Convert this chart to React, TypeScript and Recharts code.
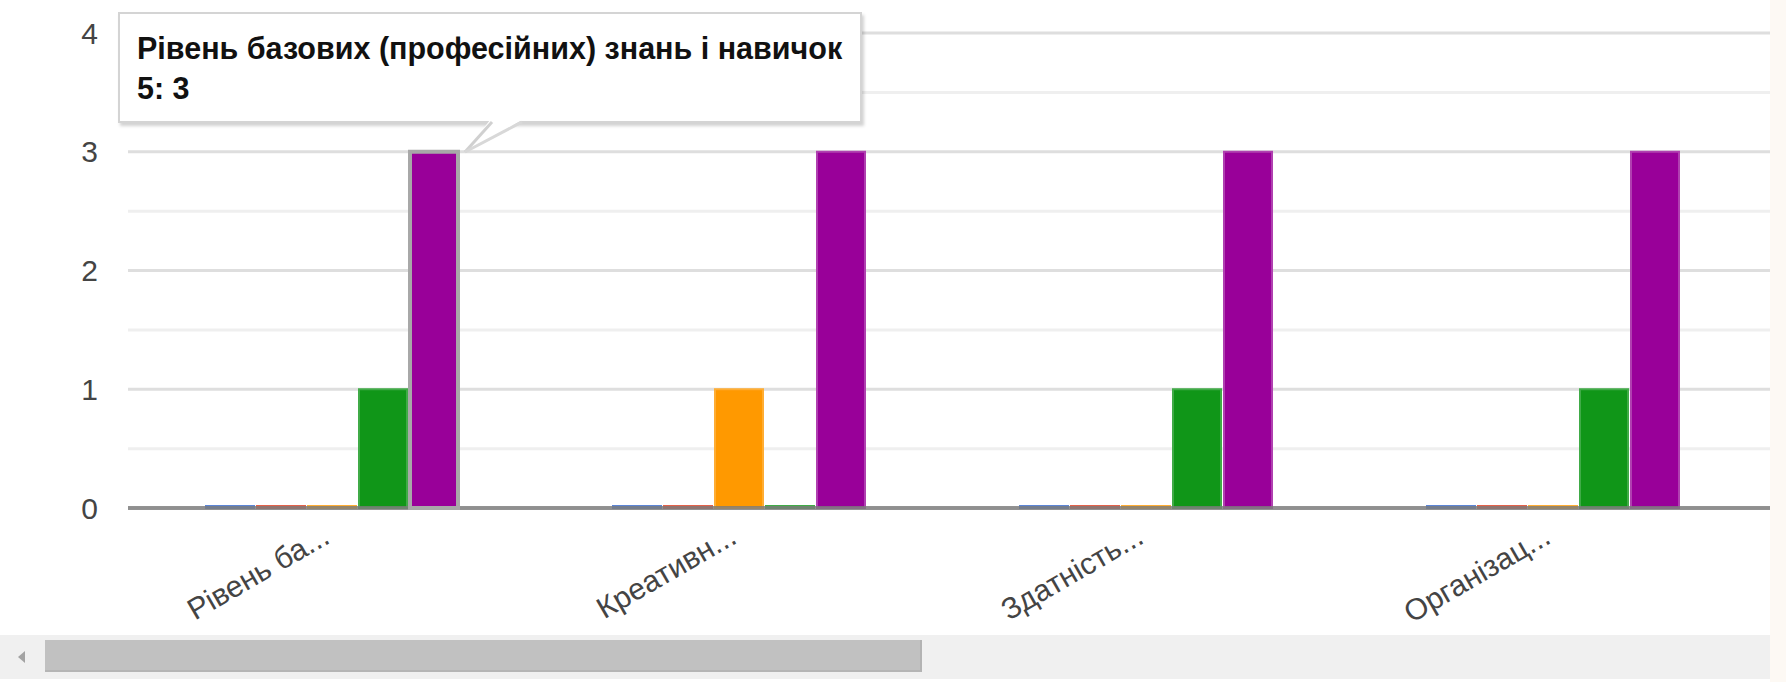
import React from 'react';
import { BarChart, Bar, XAxis, YAxis, CartesianGrid, Tooltip } from 'recharts';

const categories = [
  'Рівень базових (професійних) знань і навичок',
  'Креативність',
  'Здатність до самоосвіти',
  'Організаційні здібності',
];
const tickLabels = ['Рівень ба...', 'Креативн...', 'Здатність...', 'Організац...'];
const seriesNames = ['1', '2', '3', '4', '5'];
const series1 = [0, 0, 0, 0];
const series2 = [0, 0, 0, 0];
const series3 = [0, 1, 0, 0];
const series4 = [1, 0, 1, 1];
const series5 = [3, 3, 3, 3];
const seriesColors = ['#3366cc', '#dc3912', '#ff9900', '#109618', '#990099'];
const seriesEdges = ['#5c85d6', '#e3614a', '#ffad33', '#40ab47', '#b040b0'];
const majorTicks = [0, 1, 2, 3, 4];
const minorTicks = [0.5, 1.5, 2.5, 3.5];
const yDomain = [0, 4];
const tooltipSeries = '5';

const allSeries = [series1, series2, series3, series4, series5];
const data = categories.map((name, i) => {
  const row: Record<string, string | number> = { name, short: tickLabels[i] };
  seriesNames.forEach((s, k) => {
    row['s' + s] = allSeries[k][i];
  });
  return row;
});

const FONT = '"Liberation Sans", Arial, sans-serif';

const minorGen = (args: any) => {
  const yAxis = args && args.yAxis;
  const offset = args && args.offset;
  const sc = yAxis && yAxis.scale;
  return minorTicks.map((v) => {
    if (typeof sc === 'function') return sc(v);
    if (sc && typeof sc.map === 'function') return sc.map(v);
    const t = (v - yDomain[0]) / (yDomain[1] - yDomain[0]);
    return offset.top + offset.height * (1 - t);
  });
};

const XTick = (props: any) => {
  const { x, y, payload } = props;
  const ty = y + 34;
  return (
    <text
      x={x}
      y={ty}
      transform={`rotate(-30, ${x}, ${ty})`}
      textAnchor="end"
      fontSize={30}
      fontFamily={FONT}
      fill="#444"
    >
      {payload.value}
    </text>
  );
};

const TipContent = (props: any) => {
  const { payload, active } = props;
  if (!active || !payload || !payload.length) return null;
  const entry = payload.find((p: any) => p.name === tooltipSeries) || payload[payload.length - 1];
  const title = entry.payload.name;
  return (
    <div
      style={{
        position: 'relative',
        background: '#fff',
        border: '2px solid #d4d4d4',
        boxShadow: '2px 3px 3px rgba(0,0,0,0.18)',
        padding: '14px 18px 13px 17px',
        fontFamily: FONT,
        fontSize: 30.5,
        fontWeight: 'bold',
        color: '#111',
        whiteSpace: 'nowrap',
        lineHeight: '40px',
        width: 705,
        boxSizing: 'content-box',
      }}
    >
      <div>{title}</div>
      <div>
        {entry.name}: {entry.value}
      </div>
      <svg
        width={120}
        height={60}
        style={{ position: 'absolute', left: 340, top: 106, overflow: 'visible' }}
      >
        <polygon points="30,0 62,0 5,32" fill="#fff" />
        <line x1={32} y1={2} x2={5} y2={32} stroke="#d0d0d0" strokeWidth={3} />
        <line x1={62} y1={2} x2={5} y2={32} stroke="#d8d8d8" strokeWidth={3} />
      </svg>
    </div>
  );
};

export default function App() {
  return (
    <div style={{ position: 'absolute', left: 0, top: 0, width: 1786, height: 682, background: '#fff', overflow: 'hidden' }}>
      <BarChart
        width={1770}
        height={635}
        data={data}
        margin={{ top: 33, right: 0, left: 0, bottom: 7 }}
        barSize={48}
        barGap={3}
      >
        <CartesianGrid vertical={false} stroke="#efefef" strokeWidth={3} horizontalCoordinatesGenerator={minorGen} />
        <CartesianGrid vertical={false} stroke="#dedede" strokeWidth={3} />
        <YAxis
          width={128}
          domain={yDomain}
          ticks={majorTicks}
          axisLine={false}
          tickLine={false}
          tickSize={0}
          tickMargin={30}
          tick={{ fontSize: 30, fill: '#444', fontFamily: FONT }}
        />
        {seriesNames.map((s, k) => (
          <Bar
            key={s}
            dataKey={'s' + s}
            name={s}
            fill={seriesColors[k]}
            stroke={seriesEdges[k]}
            strokeWidth={2}
            minPointSize={2}
            isAnimationActive={false}
            activeBar={s === tooltipSeries ? { stroke: '#a8a8a8', strokeWidth: 4 } : false}
          />
        ))}
        <XAxis
          dataKey="short"
          height={120}
          padding={{ left: 0, right: 14 }}
          axisLine={{ stroke: '#7a7a7a', strokeWidth: 4, strokeOpacity: 0.8 }}
          tickLine={false}
          tickSize={0}
          tickMargin={0}
          interval={0}
          tick={<XTick />}
        />
        <Tooltip
          defaultIndex={0}
          active={true}
          cursor={false}
          position={{ x: 118, y: 12 }}
          content={<TipContent />}
          isAnimationActive={false}
          wrapperStyle={{ zIndex: 10, outline: 'none' }}
        />
      </BarChart>
      <div style={{ position: 'absolute', left: 0, top: 635, width: 1770, height: 44, background: '#f0f0f0' }} />
      <div
        style={{
          position: 'absolute',
          left: 45,
          top: 640,
          width: 875,
          height: 30,
          background: '#c1c1c1',
          borderRight: '2px solid #b3b3b3',
          borderBottom: '2px solid #b5b5b5',
        }}
      />
      <div
        style={{
          position: 'absolute',
          left: 18,
          top: 651,
          width: 0,
          height: 0,
          borderTop: '6px solid transparent',
          borderBottom: '6px solid transparent',
          borderRight: '7px solid #a3a3a3',
        }}
      />
      <div style={{ position: 'absolute', left: 1770, top: 0, width: 16, height: 682, background: '#fdf9f4' }} />
    </div>
  );
}
